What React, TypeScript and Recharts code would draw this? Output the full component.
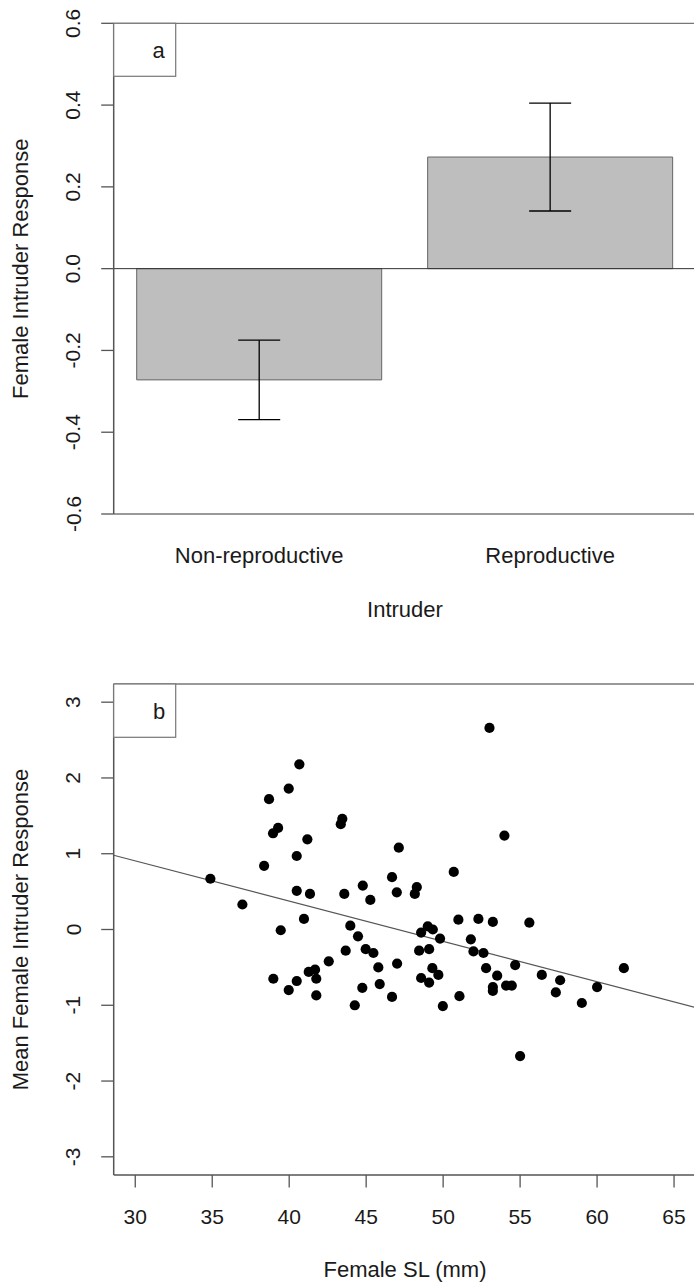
import React from 'react';
import {
  BarChart,
  Bar,
  XAxis,
  YAxis,
  ErrorBar,
  ReferenceLine,
  ScatterChart,
  Scatter,
  Label,
} from 'recharts';

// ---------- Panel a: bar chart ----------
const intruderCategories = ['Non-reproductive', 'Reproductive'];
const meanResponse = [-0.272, 0.273];
const seResponse = [0.097, 0.132];
const barTicks = [-0.6, -0.4, -0.2, 0, 0.2, 0.4, 0.6];

// ---------- Panel b: scatter ----------
const femaleSL = [
  40.66, 39.97, 38.69, 39.28, 38.95, 41.18, 43.45, 43.35, 40.49, 47.12,
  38.37, 34.88, 40.49, 41.35, 43.58, 44.78, 45.27, 46.68, 46.99, 36.96,
  40.96, 53.01, 53.98, 48.29, 48.16, 50.69, 39.45, 43.97, 44.47, 43.67,
  44.97, 45.47, 42.57, 45.79, 47.01, 41.68, 41.27, 41.76, 38.97, 40.49,
  39.97, 41.76, 44.75, 45.88, 46.68, 44.26, 50.99, 52.29, 53.23, 55.6,
  49.0, 49.33, 48.57, 49.8, 51.8, 48.44, 49.09, 51.97, 52.62, 49.3,
  49.69, 48.57, 49.09, 52.79, 53.51, 54.68, 53.23, 53.23, 54.09, 54.46,
  56.41, 57.6, 57.32, 59.01, 60.0, 61.74, 49.98, 51.06, 55.0,
];
const meanFemaleResponse = [
  2.18, 1.86, 1.72, 1.34, 1.27, 1.19, 1.46, 1.39, 0.97, 1.08,
  0.84, 0.67, 0.51, 0.47, 0.47, 0.58, 0.39, 0.69, 0.49, 0.33,
  0.14, 2.66, 1.24, 0.56, 0.47, 0.76, -0.01, 0.05, -0.09, -0.28,
  -0.26, -0.31, -0.42, -0.5, -0.45, -0.53, -0.56, -0.65, -0.65, -0.68,
  -0.8, -0.87, -0.77, -0.72, -0.89, -1.0, 0.13, 0.14, 0.1, 0.09,
  0.04, 0.0, -0.04, -0.12, -0.13, -0.28, -0.26, -0.29, -0.31, -0.51,
  -0.6, -0.64, -0.7, -0.51, -0.61, -0.47, -0.76, -0.81, -0.74, -0.74,
  -0.6, -0.67, -0.83, -0.97, -0.76, -0.51, -1.01, -0.88, -1.67,
];
const slTicks = [30, 35, 40, 45, 50, 55, 60, 65];
const responseTicks = [-3, -2, -1, 0, 1, 2, 3];
const fitLineSL = [28.6, 66.4];
const fitLineResponse = [0.98, -1.03];

const FONT = "'Liberation Sans', Arial, Helvetica, sans-serif";
const TEXT = '#1a1a1a';
const AXIS = '#555';
const BOX = '#777';

const barData = intruderCategories.map((name, i) => ({
  name,
  mean: meanResponse[i],
  se: seResponse[i],
}));

const scatterData = femaleSL.map((x, i) => ({ x, y: meanFemaleResponse[i] }));

const RotTick = (fmt: (v: number) => string) => (props: any) => {
  const { y, payload } = props;
  const bx = 80.5;
  return (
    <text
      x={bx}
      y={y}
      transform={`rotate(-90, ${bx}, ${y})`}
      textAnchor="middle"
      fontSize={21}
      fontFamily={FONT}
      fill={TEXT}
    >
      {fmt(payload.value)}
    </text>
  );
};

const XTick = (baseline: number, size: number) => (props: any) => {
  const { x, payload } = props;
  return (
    <text x={x} y={baseline} textAnchor="middle" fontSize={size} fontFamily={FONT} fill={TEXT}>
      {payload.value}
    </text>
  );
};

const YTitle = (text: string, cy: number) => () => (
  <text
    x={28}
    y={cy}
    transform={`rotate(-90, 28, ${cy})`}
    textAnchor="middle"
    fontSize={22}
    fontFamily={FONT}
    fill={TEXT}
  >
    {text}
  </text>
);

const XTitle = (text: string, cx: number, baseline: number) => () => (
  <text x={cx} y={baseline} textAnchor="middle" fontSize={22} fontFamily={FONT} fill={TEXT}>
    {text}
  </text>
);

const Dot = (p: any) => <circle cx={p.cx} cy={p.cy} r={5.1} fill="#000" />;

export default function App() {
  return (
    <div
      style={{
        position: 'absolute',
        left: 0,
        top: 0,
        width: 694,
        height: 1283,
        overflow: 'hidden',
        background: '#fff',
      }}
    >
      <div style={{ position: 'absolute', left: 0, top: 0 }}>
        <BarChart
          width={720}
          height={640}
          data={barData}
          margin={{ top: 23.3, right: 24.4, bottom: 0, left: 0 }}
        >
          <XAxis
            dataKey="name"
            height={126}
            tickLine={false}
            axisLine={{ stroke: BOX, strokeWidth: 1.3 }}
            tick={XTick(563, 22)}
            interval={0}
          >
            <Label content={XTitle('Intruder', 405, 617)} />
          </XAxis>
          <YAxis
            type="number"
            width={113.7}
            domain={[-0.6, 0.6]}
            allowDataOverflow
            ticks={barTicks}
            interval={0}
            tickSize={12.5}
            tickLine={{ stroke: AXIS, strokeWidth: 1.3 }}
            axisLine={{ stroke: AXIS, strokeWidth: 1.5 }}
            tick={RotTick((v) => v.toFixed(1))}
          >
            <Label content={YTitle('Female Intruder Response', 268.7)} />
          </YAxis>
          <ReferenceLine y={0.6} stroke={BOX} strokeWidth={1.3} />
          <Bar
            dataKey="mean"
            fill="#bebebe"
            stroke="#666"
            strokeWidth={1}
            barSize={245}
            isAnimationActive={false}
          >
            <ErrorBar dataKey="se" width={21} stroke="#000" strokeWidth={1.3} direction="y" />
          </Bar>
          <ReferenceLine y={0} stroke="#333" strokeWidth={1} />
        </BarChart>
      </div>

      <div style={{ position: 'absolute', left: 0, top: 640 }}>
        <ScatterChart
          width={720}
          height={643}
          margin={{ top: 44, right: 24.4, bottom: 0, left: 0 }}
        >
          <XAxis
            type="number"
            dataKey="x"
            domain={[28.6, 66.4]}
            allowDataOverflow
            ticks={slTicks}
            interval={0}
            height={108}
            tickSize={12.5}
            tickLine={{ stroke: AXIS, strokeWidth: 1.3 }}
            axisLine={{ stroke: AXIS, strokeWidth: 1.5 }}
            tick={XTick(584, 21)}
          >
            <Label content={XTitle('Female SL (mm)', 405, 637)} />
          </XAxis>
          <YAxis
            type="number"
            dataKey="y"
            width={113.7}
            domain={[-3.24, 3.24]}
            allowDataOverflow
            ticks={responseTicks}
            interval={0}
            tickSize={12.5}
            tickLine={{ stroke: AXIS, strokeWidth: 1.3 }}
            axisLine={{ stroke: AXIS, strokeWidth: 1.5 }}
            tick={RotTick((v) => String(v))}
          >
            <Label content={YTitle('Mean Female Intruder Response', 289.5)} />
          </YAxis>
          <ReferenceLine y={3.24} stroke={BOX} strokeWidth={1.3} />
          <ReferenceLine
            segment={[
              { x: fitLineSL[0], y: fitLineResponse[0] },
              { x: fitLineSL[1], y: fitLineResponse[1] },
            ]}
            stroke="#555"
            strokeWidth={1.2}
          />
          <Scatter data={scatterData} shape={Dot} isAnimationActive={false} />
        </ScatterChart>
      </div>

      <svg
        width={694}
        height={1283}
        style={{ position: 'absolute', left: 0, top: 0, pointerEvents: 'none' }}
      >
        <rect x={113.7} y={23.3} width={62} height={53} fill="#fff" stroke={BOX} strokeWidth={1.2} />
        <text x={158.6} y={58} textAnchor="middle" fontSize={22} fontFamily={FONT} fill={TEXT}>
          a
        </text>
        <rect x={113.7} y={684} width={62} height={53.3} fill="#fff" stroke={BOX} strokeWidth={1.2} />
        <text x={159} y={719} textAnchor="middle" fontSize={22} fontFamily={FONT} fill={TEXT}>
          b
        </text>
      </svg>
    </div>
  );
}
